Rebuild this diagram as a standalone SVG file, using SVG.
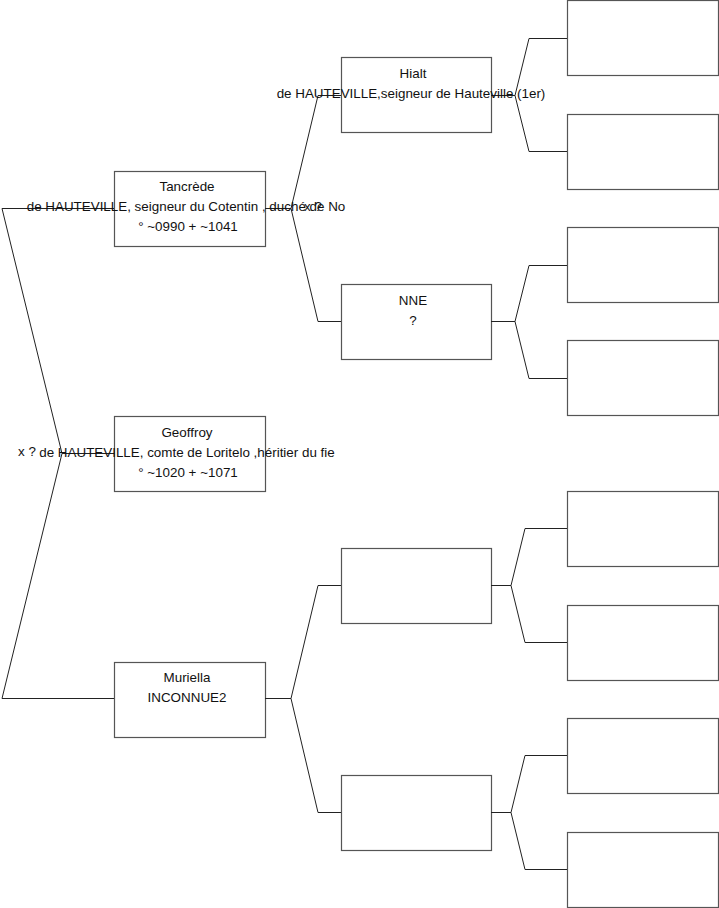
<svg xmlns="http://www.w3.org/2000/svg" width="719" height="908" viewBox="0 0 719 908">
<style>
.box{fill:#fff;stroke:#555;stroke-width:1.2}
.c{fill:none;stroke:#222;stroke-width:1}
text{font-family:"Liberation Sans",Arial,sans-serif;font-size:13.4px;fill:#111}
.m{text-anchor:middle}
</style>
<rect width="719" height="908" fill="#fff"/>
<g id="nodes">
<g id="n-tancrede"><rect class="box" x="114.5" y="171.5" width="151" height="75"/></g>
<g id="n-geoffroy"><rect class="box" x="114.5" y="416.5" width="151" height="75"/></g>
<g id="n-muriella"><rect class="box" x="114.5" y="662.5" width="151" height="75"/></g>
<g id="n-hialt"><rect class="box" x="341.5" y="57.5" width="150" height="75"/></g>
<g id="n-nne"><rect class="box" x="341.5" y="284.5" width="150" height="75"/></g>
<g id="n-g2c"><rect class="box" x="341.5" y="548.5" width="150" height="75"/></g>
<g id="n-g2d"><rect class="box" x="341.5" y="775.5" width="150" height="75"/></g>
<g id="n-g3a"><rect class="box" x="567.5" y="0.5" width="151" height="75"/></g>
<g id="n-g3b"><rect class="box" x="567.5" y="114.5" width="151" height="75"/></g>
<g id="n-g3c"><rect class="box" x="567.5" y="227.5" width="151" height="75"/></g>
<g id="n-g3d"><rect class="box" x="567.5" y="340.5" width="151" height="75"/></g>
<g id="n-g3e"><rect class="box" x="567.5" y="491.5" width="151" height="75"/></g>
<g id="n-g3f"><rect class="box" x="567.5" y="605.5" width="151" height="75"/></g>
<g id="n-g3g"><rect class="box" x="567.5" y="718.5" width="151" height="75"/></g>
<g id="n-g3h"><rect class="box" x="567.5" y="832.5" width="151" height="75"/></g>
</g>
<g id="connectors">
<polyline class="c" points="114,208.5 2,208.5 62,453.5 2,698.5 114,698.5"/>
<line class="c" x1="62" y1="453.5" x2="114" y2="453.5"/>
<polyline class="c" points="341,95.5 318,95.5 291,208.5 318,321.5 341,321.5"/>
<line class="c" x1="265" y1="208.5" x2="291" y2="208.5"/>
<polyline class="c" points="341,585.5 318,585.5 291,698.5 318,812.5 341,812.5"/>
<line class="c" x1="265" y1="698.5" x2="291" y2="698.5"/>
<polyline class="c" points="567,38.5 529,38.5 515,95.5 529,151.5 567,151.5"/>
<line class="c" x1="491" y1="95.5" x2="515" y2="95.5"/>
<polyline class="c" points="567,265.5 529,265.5 515,321.5 529,378.5 567,378.5"/>
<line class="c" x1="491" y1="321.5" x2="515" y2="321.5"/>
<polyline class="c" points="567,528.5 525,528.5 511,585.5 525,642.5 567,642.5"/>
<line class="c" x1="491" y1="585.5" x2="511" y2="585.5"/>
<polyline class="c" points="567,755.5 525,755.5 511,812.5 525,869.5 567,869.5"/>
<line class="c" x1="491" y1="812.5" x2="511" y2="812.5"/>
</g>
<g id="labels">
<text class="m" x="187" y="191">Tancrède</text>
<text class="m" x="186" y="211">de HAUTEVILLE, seigneur du Cotentin , duché de No</text>
<text class="m" x="188" y="231">° ~0990 + ~1041</text>
<text x="304" y="211">x ?</text>
<text class="m" x="187" y="437">Geoffroy</text>
<text class="m" x="187" y="457">de HAUTEVILLE, comte de Loritelo ,héritier du fie</text>
<text class="m" x="188" y="477">° ~1020 + ~1071</text>
<text x="18" y="456">x ?</text>
<text class="m" x="187" y="682">Muriella</text>
<text class="m" x="187" y="702">INCONNUE2</text>
<text class="m" x="413" y="78">Hialt</text>
<text class="m" x="411" y="98">de HAUTEVILLE,seigneur de Hauteville (1er)</text>
<text class="m" x="413" y="305">NNE</text>
<text class="m" x="413" y="325">?</text>
</g>
</svg>
